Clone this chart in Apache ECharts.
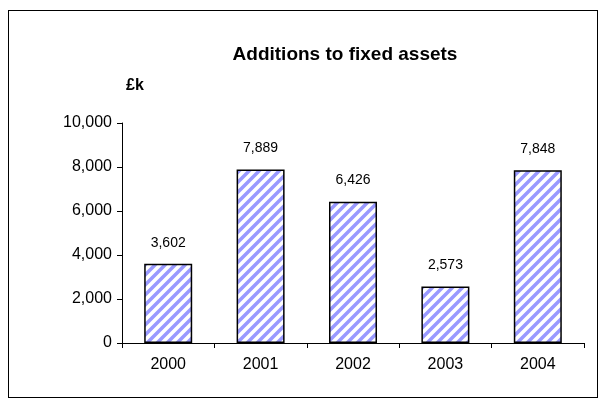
<!DOCTYPE html>
<html><head><meta charset="utf-8">
<script src="https://cdn.jsdelivr.net/npm/echarts@6/dist/echarts.min.js"></script>
<style>html,body{margin:0;padding:0;background:#fff}#c{width:604px;height:407px}
#frame{position:absolute;left:8px;top:10px;width:588px;height:386px;border:1px solid #000;pointer-events:none}</style>
</head><body><div id="c"></div><div id="frame"></div>
<script>
var years = ["2000", "2001", "2002", "2003", "2004"];
var values = [3602, 7889, 6426, 2573, 7848];

// diagonal stripe pattern (bottom-left to top-right)
var pc = document.createElement("canvas");
pc.width = 10; pc.height = 10;
var g = pc.getContext("2d");
g.fillStyle = "#fff"; g.fillRect(0, 0, 10, 10);
g.strokeStyle = "#9999ff"; g.lineWidth = 3.5; g.lineCap = "square";
g.beginPath();
g.moveTo(-1, 11); g.lineTo(11, -1);
g.moveTo(-6, 6); g.lineTo(6, -6);
g.moveTo(4, 16); g.lineTo(16, 4);
g.stroke();

var chart = echarts.init(document.getElementById("c"));
chart.setOption({
  animation: false,
  textStyle: {fontFamily: "Liberation Sans", color: "#000"},
  title: [
    {text: "Additions to fixed assets", left: 340, top: 40, textAlign: "center",
     textStyle: {fontSize: 19, fontWeight: "bold", color: "#000", fontFamily: "Liberation Sans"}},
    {text: "£k", left: 121, top: 73,
     textStyle: {fontSize: 16, fontWeight: "bold", color: "#000", fontFamily: "Liberation Sans"}}
  ],
  grid: {left: 122, right: 20, top: 123, bottom: 64},
  xAxis: {
    type: "category", data: years,
    axisLine: {lineStyle: {color: "#000"}},
    axisTick: {show: true, length: 5, lineStyle: {color: "#000"}},
    axisLabel: {fontSize: 16, color: "#000", margin: 14}
  },
  yAxis: {
    type: "value", min: 0, max: 10000, interval: 2000,
    axisLine: {show: true, lineStyle: {color: "#000"}},
    axisTick: {show: true, length: 5, lineStyle: {color: "#000"}},
    splitLine: {show: false},
    axisLabel: {fontSize: 16, color: "#000", margin: 10,
      formatter: function (v) { return v.toLocaleString("en-GB"); }}
  },
  series: [{
    type: "bar", data: values, barWidth: 48,
    itemStyle: {color: {image: pc, repeat: "repeat"}, borderColor: "#000", borderWidth: 1.5},
    label: {show: true, position: "top", distance: 14, fontSize: 14, color: "#000",
      formatter: function (p) { return p.value.toLocaleString("en-GB"); }}
  }]
});
</script></body></html>
